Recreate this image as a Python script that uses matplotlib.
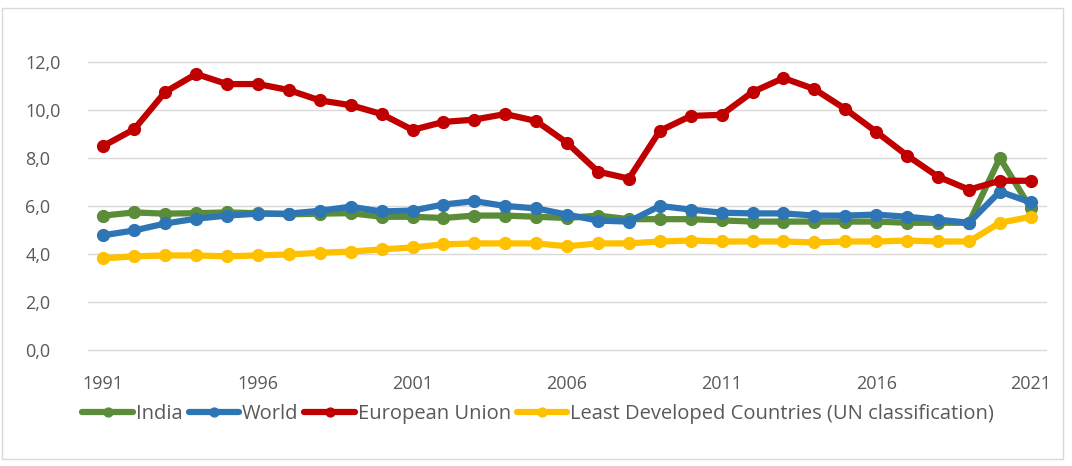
import matplotlib.pyplot as plt
from matplotlib.ticker import FuncFormatter, FixedLocator
from matplotlib.patches import Rectangle

years = list(range(1991, 2022))

india = [5.6, 5.73, 5.68, 5.7, 5.73, 5.7, 5.65, 5.68, 5.7, 5.55,
         5.55, 5.5, 5.6, 5.6, 5.55, 5.5, 5.6, 5.45, 5.45, 5.45,
         5.4, 5.35, 5.35, 5.35, 5.35, 5.35, 5.3, 5.3, 5.3, 8.0, 5.9]
world = [4.78, 4.98, 5.27, 5.47, 5.6, 5.68, 5.68, 5.8, 5.97, 5.77,
         5.81, 6.06, 6.2, 6.0, 5.9, 5.64, 5.39, 5.35, 6.0, 5.85,
         5.72, 5.69, 5.69, 5.6, 5.6, 5.64, 5.55, 5.43, 5.3, 6.6, 6.15]
eu = [8.5, 9.2, 10.75, 11.5, 11.08, 11.08, 10.83, 10.4, 10.2, 9.83,
      9.17, 9.5, 9.6, 9.83, 9.54, 8.63, 7.43, 7.14, 9.13, 9.75,
      9.8, 10.75, 11.33, 10.87, 10.04, 9.09, 8.1, 7.22, 6.68, 7.05, 7.05]
ldc = [3.82, 3.9, 3.94, 3.94, 3.9, 3.94, 3.98, 4.05, 4.1, 4.19,
       4.27, 4.4, 4.44, 4.44, 4.44, 4.32, 4.44, 4.44, 4.52, 4.56,
       4.52, 4.52, 4.52, 4.48, 4.52, 4.52, 4.56, 4.52, 4.52, 5.3, 5.55]

series = [
    ("India", india, "#5B8C3A"),
    ("World", world, "#2E75B6"),
    ("European Union", eu, "#C00000"),
    ("Least Developed Countries (UN classification)", ldc, "#FFC000"),
]

plt.rcParams['font.family'] = ['Open Sans', 'DejaVu Sans']

fig = plt.figure(figsize=(10.72, 4.66), dpi=100)
ax = fig.add_axes([0.082, 0.249, 0.894, 0.618])

for name, vals, col in series:
    ax.plot(years, vals, color=col, lw=4.5, marker='o', ms=8.5, label=name,
            solid_capstyle='round', solid_joinstyle='round')

ax.set_xlim(1990.5, 2021.5)
ax.set_ylim(0, 12)
ax.set_yticks([0, 2, 4, 6, 8, 10, 12])
ax.yaxis.set_major_formatter(FuncFormatter(lambda v, p: f"{v:.1f}".replace('.', ',')))
ax.xaxis.set_major_locator(FixedLocator([1991, 1996, 2001, 2006, 2011, 2016, 2021]))
ax.grid(axis='y', color='#D9D9D9', lw=1)
for g in ax.yaxis.get_gridlines():
    g.set_clip_on(False)
ax.set_axisbelow(True)
for s in ax.spines.values():
    s.set_visible(False)
ax.tick_params(length=0, labelsize=13, colors='#595959')
ax.tick_params(axis='x', pad=18)
ax.tick_params(axis='y', pad=45)
for t in ax.get_yticklabels():
    t.set_horizontalalignment('left')

ax.legend(loc='center', bbox_to_anchor=(0.47, -0.222), ncol=4, frameon=False,
          fontsize=14.5, labelcolor='#595959', handlelength=2.5, handletextpad=0.15,
          columnspacing=0.3, markerscale=0.75)

fig.patches.append(Rectangle((0.002, 0.015), 0.99, 0.968, transform=fig.transFigure,
                             fill=False, edgecolor='#D9D9D9', lw=1))

fig.savefig('out.png', dpi=100)
